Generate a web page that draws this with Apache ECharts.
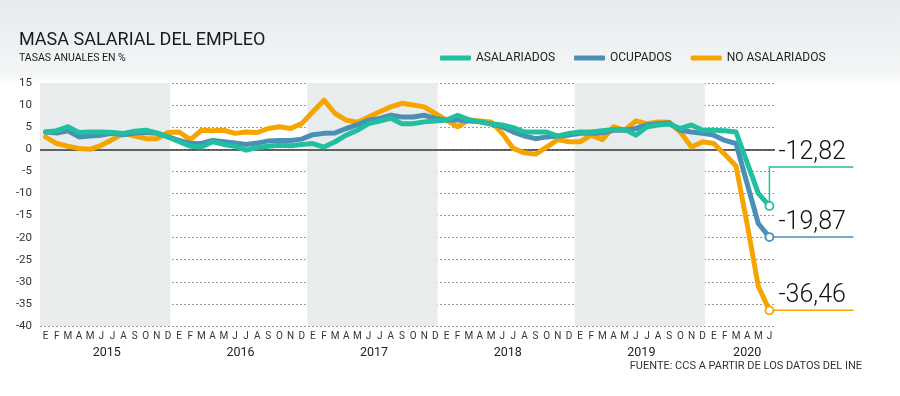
<!DOCTYPE html>
<html>
<head>
<meta charset="utf-8">
<script src="https://cdn.jsdelivr.net/npm/echarts@6/dist/echarts.min.js"></script>
<style>
  html, body { margin: 0; padding: 0; background: #fff; }
  #chart { width: 900px; height: 396px; }
</style>
</head>
<body>
<div id="chart"></div>
<script>
// datos (tasas anuales en %)
const years = ['2015', '2016', '2017', '2018', '2019', '2020']
const shadedYears = ['2015', '2017', '2019']
const monthLetters = ['E', 'F', 'M', 'A', 'M', 'J', 'J', 'A', 'S', 'O', 'N', 'D']
const monthsLastYear = 6

const asalariados = [
  3.9, 4.2, 5.1, 3.8, 3.9, 3.9, 3.8, 3.6, 4.1, 4.3, 3.7, 2.8,
  1.7, 0.7, 0.5, 1.7, 1.1, 0.7, -0.2, 0.4, 0.7, 0.9, 0.8, 1.1,
  1.3, 0.5, 1.7, 3.2, 4.3, 5.8, 6.4, 7.0, 5.8, 5.8, 6.2, 6.4,
  6.6, 7.7, 6.7, 6.2, 5.8, 5.5, 4.9, 3.9, 3.9, 3.9, 3.0, 3.6,
  3.9, 3.9, 4.2, 4.5, 4.5, 3.2, 5.1, 5.5, 5.7, 4.7, 5.5, 4.3,
  4.3, 4.2, 3.9, -3.0, -10.0, -12.82
]
const ocupados = [
  3.9, 3.7, 4.2, 2.8, 3.0, 3.2, 3.6, 3.3, 3.7, 3.8, 3.6, 2.8,
  2.0, 1.3, 1.3, 2.0, 1.7, 1.4, 1.1, 1.4, 1.9, 2.0, 2.0, 2.3,
  3.3, 3.6, 3.7, 4.7, 5.5, 6.6, 7.0, 7.7, 7.3, 7.3, 7.7, 7.0,
  6.6, 6.7, 6.4, 6.2, 5.7, 5.1, 3.9, 3.0, 2.4, 2.8, 3.0, 3.2,
  3.6, 3.6, 3.7, 4.3, 4.3, 4.7, 5.5, 5.8, 6.0, 4.3, 3.9, 3.6,
  3.2, 2.0, 1.3, -7.8, -16.8, -19.87
]
const noAsalariados = [
  2.8, 1.3, 0.7, 0.2, 0.0, 0.9, 2.2, 3.6, 3.0, 2.4, 2.4, 3.8,
  3.9, 2.2, 4.3, 4.2, 4.3, 3.6, 3.9, 3.8, 4.7, 5.1, 4.7, 5.8,
  8.5, 11.1, 8.1, 6.6, 6.1, 7.3, 8.5, 9.6, 10.4, 10.0, 9.6, 8.1,
  6.6, 5.1, 6.6, 6.4, 6.2, 3.6, 0.2, -0.8, -1.1, 0.5, 2.2, 1.7,
  1.7, 3.2, 2.2, 5.1, 4.3, 6.4, 5.8, 6.2, 6.1, 3.9, 0.5, 1.7,
  1.3, -1.2, -3.8, -17.0, -31.0, -36.46
]
const endLabels = ['-12,82', '-19,87', '-36,46']

const FONT = 'Roboto, sans-serif'
const colors = ['#22bea0', '#4a90b6', '#f6a500']

// categorias mensuales unicas (el eje solo muestra la inicial)
const categories = []
const yearCenters = []
const bands = []
years.forEach((y, k) => {
  const n = k === years.length - 1 ? monthsLastYear : 12
  const start = categories.length
  for (let m = 0; m < n; m++) categories.push(y + '-' + m)
  yearCenters.push(n < 12 ? start + (n + 1) / 2 : start + n / 2)
  if (shadedYears.includes(y)) bands.push([{ xAxis: start }, { xAxis: start + n - 0.3 }])
})

let chart = echarts.init(document.getElementById('chart'))

function serie(name, data, color, z) {
  const last = data.length - 1
  return {
    name: name,
    type: 'line',
    data: data,
    z: z,
    symbol: 'none',
    lineStyle: { width: 5, color: color, cap: 'round', join: 'round' },
    itemStyle: { color: color },
    emphasis: { disabled: true },
    markPoint: {
      silent: true,
      symbol: 'circle',
      symbolSize: 8,
      data: [{ coord: [last, data[last]] }],
      itemStyle: { color: '#fff', borderColor: color, borderWidth: 1.8 },
      label: { show: false }
    }
  }
}

let option = {
  animation: false,
  backgroundColor: new echarts.graphic.LinearGradient(0, 0, 0, 1, [
    { offset: 0, color: '#e7ebee' },
    { offset: 0.19, color: '#f4f6f7' },
    { offset: 0.21, color: '#ffffff' },
    { offset: 1, color: '#ffffff' }
  ]),
  title: {
    text: 'MASA SALARIAL DEL EMPLEO',
    subtext: 'TASAS ANUALES EN %',
    left: 14,
    top: 26,
    itemGap: 4,
    textStyle: { fontFamily: FONT, fontSize: 18, fontWeight: 'normal', color: '#1a1a1a' },
    subtextStyle: { fontFamily: FONT, fontSize: 10.5, color: '#1a1a1a' }
  },
  legend: {
    left: 435,
    top: 47,
    icon: 'roundRect',
    itemWidth: 31,
    itemHeight: 5,
    itemGap: 19,
    textStyle: { fontFamily: FONT, fontSize: 12, color: '#222' },
    data: ['ASALARIADOS', 'OCUPADOS', 'NO ASALARIADOS']
  },
  grid: { left: 40, right: 125, top: 83, bottom: 70 },
  xAxis: [
    {
      type: 'category',
      data: categories,
      boundaryGap: true,
      axisLine: { show: false },
      axisTick: { show: false },
      axisLabel: {
        interval: 0,
        margin: 5,
        fontFamily: FONT,
        fontSize: 10,
        color: '#333',
        formatter: v => monthLetters[+v.split('-')[1]]
      },
      splitLine: { show: false }
    },
    {
      // años bajo las iniciales de los meses
      type: 'value',
      position: 'bottom',
      min: 0,
      max: categories.length,
      offset: 12,
      axisLine: { show: false },
      axisTick: { show: false },
      splitLine: { show: false },
      axisLabel: {
        customValues: yearCenters,
        fontFamily: FONT,
        fontSize: 12.5,
        color: '#222',
        formatter: v => years[yearCenters.indexOf(v)] || ''
      }
    }
  ],
  yAxis: {
    type: 'value',
    min: -40,
    max: 15,
    interval: 5,
    axisLine: { show: false },
    axisTick: { show: false },
    axisLabel: { fontFamily: FONT, fontSize: 11.5, color: '#333', margin: 8 },
    splitLine: { lineStyle: { color: '#9a9a9a', type: [2, 2], width: 1 } }
  },
  series: [
    serie('ASALARIADOS', asalariados, colors[0], 4),
    serie('OCUPADOS', ocupados, colors[1], 3),
    serie('NO ASALARIADOS', noAsalariados, colors[2], 2),
    {
      // bandas de años alternos y linea del cero
      type: 'line',
      xAxisIndex: 1,
      data: [],
      silent: true,
      markArea: {
        silent: true,
        itemStyle: { color: '#e8eced' },
        data: bands
      },
      markLine: {
        z: 1,
        silent: true,
        symbol: ['none', 'none'],
        label: { show: false },
        lineStyle: { color: '#333', width: 1.5, type: 'solid' },
        data: [{ yAxis: 0 }]
      }
    }
  ]
}
chart.setOption(option)

// etiquetas del ultimo dato a la derecha
const seriesData = [asalariados, ocupados, noAsalariados]
const elbow = [39, 0, 0]
const graphics = []
seriesData.forEach((d, k) => {
  const last = d.length - 1
  const p = chart.convertToPixel({ seriesIndex: k }, [last, d[last]])
  const ly = p[1] - elbow[k]
  graphics.push({
    type: 'polyline',
    z: 4,
    silent: true,
    shape: { points: [[p[0], p[1]], [p[0], ly], [p[0] + 84, ly]] },
    style: { stroke: colors[k], lineWidth: 1.5, fill: null }
  })
  graphics.push({
    type: 'text',
    z: 4,
    silent: true,
    x: p[0] + 9,
    y: ly - 2,
    style: {
      text: endLabels[k],
      fontFamily: 'Roboto, sans-serif',
      fontWeight: 300,
      fontSize: 25,
      fill: '#111',
      textVerticalAlign: 'bottom'
    }
  })
})
graphics.push({
  type: 'text',
  right: 38,
  top: 361,
  silent: true,
  style: { text: 'FUENTE: CCS A PARTIR DE LOS DATOS DEL INE', fontFamily: FONT, fontSize: 11, fill: '#333' }
})
chart.setOption({ graphic: graphics })
</script>
</body>
</html>
